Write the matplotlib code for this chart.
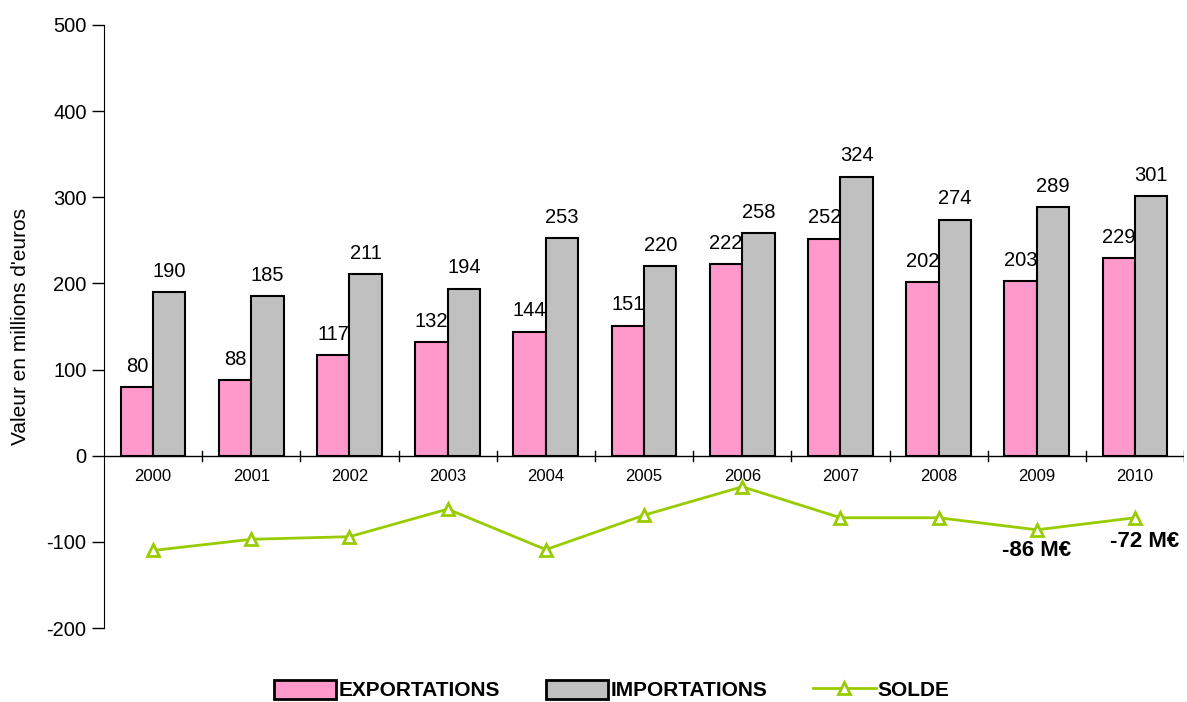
import numpy as np
import matplotlib.pyplot as plt

plt.rcParams['font.family'] = ['Liberation Sans', 'DejaVu Sans']
plt.rcParams['axes.unicode_minus'] = False

years = ['2000', '2001', '2002', '2003', '2004', '2005', '2006', '2007', '2008', '2009', '2010']
exportations = [80, 88, 117, 132, 144, 151, 222, 252, 202, 203, 229]
importations = [190, 185, 211, 194, 253, 220, 258, 324, 274, 289, 301]
solde = [-110, -97, -94, -62, -109, -69, -36, -72, -72, -86, -72]

fig = plt.figure(figsize=(11.87, 7.02), dpi=100)
ax = fig.add_axes([0.0876, 0.1054, 0.91, 0.859])

x = np.arange(len(years))
w = 0.33
b1 = ax.bar(x - w / 2, exportations, w, color='#FF99CC', edgecolor='black', linewidth=1.5,
            label='EXPORTATIONS', zorder=3)
b2 = ax.bar(x + w / 2, importations, w, color='#C0C0C0', edgecolor='black', linewidth=1.5,
            label='IMPORTATIONS', zorder=3)
l1, = ax.plot(x, solde, color='#99CC00', linewidth=2, marker='^', markersize=9,
              markerfacecolor='white', markeredgecolor='#99CC00', markeredgewidth=2,
              label='SOLDE', zorder=4)

for i in range(len(years)):
    ax.text(x[i] - w / 2, exportations[i] + 13, str(exportations[i]), ha='center',
            va='bottom', fontsize=14.5)
    ax.text(x[i] + w / 2, importations[i] + 13, str(importations[i]), ha='center',
            va='bottom', fontsize=14.5)

# solde labels for the last two years
ax.text(x[9], solde[9] - 12, '%d M€' % solde[9], ha='center', va='top',
        fontsize=16, fontweight='bold')
ax.text(x[10] + 0.1, solde[10] - 15, '%d M€' % solde[10], ha='center', va='top',
        fontsize=16, fontweight='bold')

ax.set_ylim(-200, 500)
ax.set_xlim(-0.5, len(years) - 0.5)
ax.set_yticks(range(-200, 501, 100))
ax.tick_params(axis='y', labelsize=14.5, direction='out', length=9, width=1)
ax.set_ylabel("Valeur en millions d'euros", fontsize=15, labelpad=12)

# x axis drawn at zero, labels at category centres, ticks between categories
ax.spines['top'].set_visible(False)
ax.spines['right'].set_visible(False)
ax.spines['bottom'].set_visible(False)
ax.axhline(0, color='black', linewidth=1, zorder=2)
ax.set_xticks([])
for i in range(1, len(years) + 1):
    ax.plot([i - 0.5, i - 0.5], [-6, 6], color='black', linewidth=1, zorder=2)
for i, yr in enumerate(years):
    ax.text(x[i], -15, yr, ha='center', va='top', fontsize=12)

leg = ax.legend([b1, b2, l1], ['EXPORTATIONS', 'IMPORTATIONS', 'SOLDE'],
                loc='center', bbox_to_anchor=(0.47, -0.103), ncol=3, frameon=False,
                prop={'size': 15, 'weight': 'bold'}, handlelength=3.0, handleheight=1.0,
                columnspacing=2.2, handletextpad=0.1, borderaxespad=0)
for h in leg.legend_handles[:2]:
    h.set_linewidth(2)

fig.savefig('out.png', dpi=100)
